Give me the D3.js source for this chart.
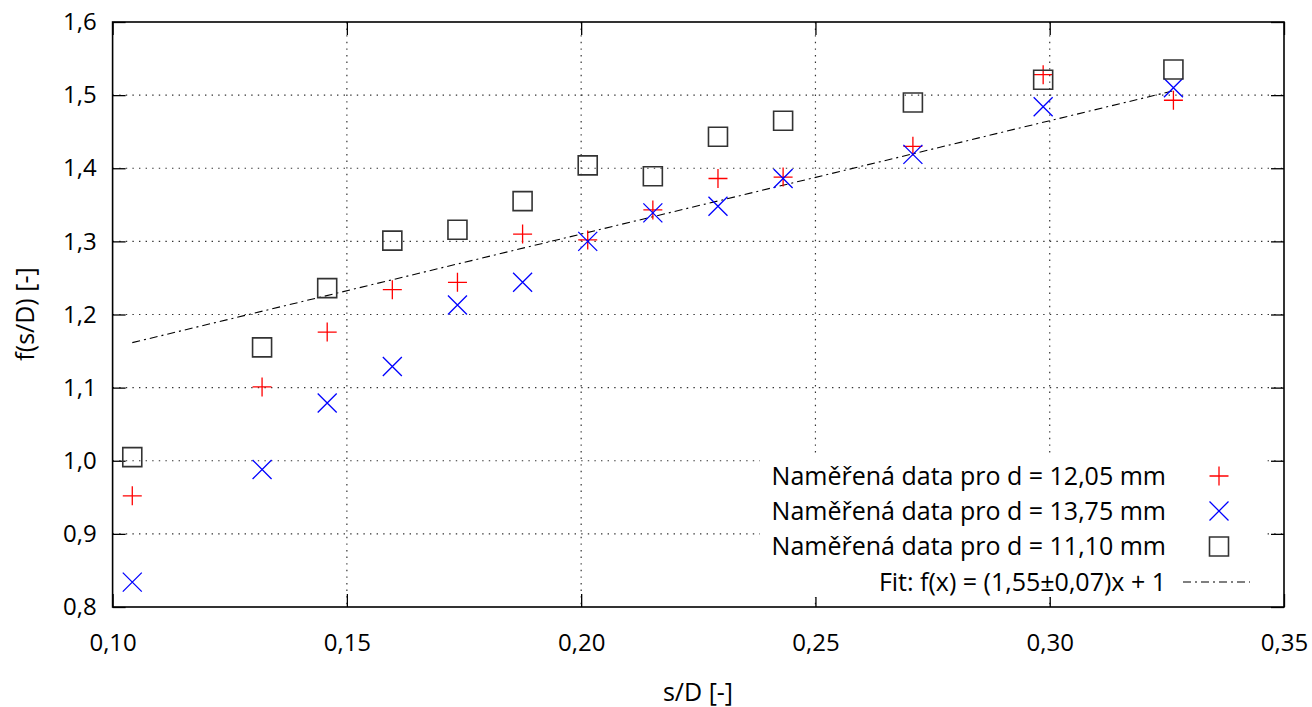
<!DOCTYPE html>
<html>
<head>
<meta charset="utf-8">
<script src="https://cdn.jsdelivr.net/npm/d3@7"></script>
<style>
  body { margin: 0; background: #fff; }
  text { font-family: "Open Sans", sans-serif; fill: #000; }
</style>
</head>
<body>
<div id="graph"></div>
<script>
// s/D values (shared by all three measured series)
var sD = [0.1042, 0.1319, 0.1458, 0.1597, 0.1736, 0.1875, 0.2014, 0.2153, 0.2292, 0.2431, 0.2708, 0.2986, 0.3264];
var fD1205 = [0.952, 1.101, 1.176, 1.234, 1.244, 1.310, 1.302, 1.343, 1.386, 1.388, 1.430, 1.528, 1.493];
var fD1375 = [0.834, 0.988, 1.079, 1.129, 1.213, 1.244, 1.300, 1.339, 1.348, 1.386, 1.419, 1.484, 1.510];
var fD1110 = [1.005, 1.155, 1.236, 1.301, 1.316, 1.355, 1.404, 1.389, 1.443, 1.465, 1.490, 1.521, 1.535];

var fitSlope = 1.55, fitIntercept = 1;
var fitRange = [0.1042, 0.3264];

var xTicks = [0.10, 0.15, 0.20, 0.25, 0.30, 0.35];
var yTicks = [0.8, 0.9, 1.0, 1.1, 1.2, 1.3, 1.4, 1.5, 1.6];

var legendLabels = ["Naměřená data pro d = 12,05 mm", "Naměřená data pro d = 13,75 mm",
                    "Naměřená data pro d = 11,10 mm", "Fit: f(x) = (1,55±0,07)x + 1"];

var W = 1312, H = 707;
var margin = { top: 22, right: 28, bottom: 100, left: 112.6 };
var w = W - margin.left - margin.right;
var h = H - margin.top - margin.bottom;
var FS = 24, LFS = 25;
var comma = function (s) { return s.replace(".", ","); };

var svg = d3.select("#graph").append("svg")
  .attr("width", W).attr("height", H)
  .append("g")
  .attr("transform", "translate(" + margin.left + "," + margin.top + ")");

var xScale = d3.scaleLinear().domain([0.10, 0.35]).range([0, w]);
var yScale = d3.scaleLinear().domain([0.8, 1.6]).range([h, 0]);

// grid
svg.append("g").selectAll("line").data(xTicks.slice(1, -1)).enter().append("line")
  .attr("x1", d => xScale(d)).attr("x2", d => xScale(d))
  .attr("y1", 0).attr("y2", h)
  .attr("stroke", "#333").attr("stroke-width", 1.2).attr("stroke-dasharray", "1.4,5.2");
svg.append("g").selectAll("line").data(yTicks.slice(1, -1)).enter().append("line")
  .attr("y1", d => yScale(d)).attr("y2", d => yScale(d))
  .attr("x1", 0).attr("x2", w)
  .attr("stroke", "#333").attr("stroke-width", 1.2).attr("stroke-dasharray", "1.4,5.2");

// axes (inward ticks, mirrored)
var xAxis = d3.axisBottom(xScale).tickValues(xTicks).tickSize(-13).tickPadding(27)
  .tickFormat(d => comma(d3.format(".2f")(d)));
var yAxis = d3.axisLeft(yScale).tickValues(yTicks).tickSize(-13).tickPadding(16)
  .tickFormat(d => comma(d3.format(".1f")(d)));

var gx = svg.append("g").attr("transform", "translate(0," + h + ")").call(xAxis);
var gy = svg.append("g").call(yAxis);
svg.append("g").call(d3.axisTop(xScale).tickValues(xTicks).tickSize(-13).tickFormat(""));
svg.append("g").attr("transform", "translate(" + w + ",0)")
  .call(d3.axisRight(yScale).tickValues(yTicks).tickSize(-13).tickFormat(""));

svg.selectAll(".domain").remove();
svg.selectAll(".tick line").attr("stroke", "#000").attr("stroke-width", 1.3);
svg.selectAll(".tick text").style("font-size", FS + "px").style("font-family", "\"Open Sans\", sans-serif");

// fit line
var line = d3.line().x(d => xScale(d)).y(d => yScale(fitIntercept + fitSlope * d));
svg.append("path").datum(fitRange).attr("d", line)
  .attr("fill", "none").attr("stroke", "#000").attr("stroke-width", 1.1)
  .attr("stroke-dasharray", "8,4,2,4");

// markers
var S = 9.5;
var plusPath = "M" + (-S) + ",0H" + S + "M0," + (-S) + "V" + S;
var crossPath = "M" + (-S) + "," + (-S) + "L" + S + "," + S + "M" + (-S) + "," + S + "L" + S + "," + (-S);
var squarePath = "M" + (-S) + "," + (-S) + "H" + S + "V" + S + "H" + (-S) + "Z";

var series = [
  { vals: fD1205, path: plusPath, color: "#ff0000", sw: 1.3 },
  { vals: fD1375, path: crossPath, color: "#0000ff", sw: 1.3 },
  { vals: fD1110, path: squarePath, color: "#333", sw: 1.6 }
];

series.forEach(function (s) {
  svg.append("g").selectAll("path").data(sD).enter().append("path")
    .attr("transform", (d, i) => "translate(" + xScale(d) + "," + yScale(s.vals[i]) + ")")
    .attr("d", s.path).attr("fill", "none")
    .attr("stroke", s.color).attr("stroke-width", s.sw);
});

// legend
var lg = svg.append("g").attr("transform", "translate(" + (760 - margin.left) + "," + (457 - margin.top) + ")");
lg.append("rect").attr("width", 506).attr("height", 140).attr("fill", "#fff");
var rowY = [19, 54, 89.5, 125];
legendLabels.forEach(function (t, i) {
  lg.append("text").attr("x", 406).attr("y", rowY[i]).attr("dy", "0.35em")
    .attr("text-anchor", "end").style("font-size", LFS + "px").text(t);
  if (i < 3) {
    lg.append("path").attr("transform", "translate(459," + rowY[i] + ")")
      .attr("d", series[i].path).attr("fill", "none")
      .attr("stroke", series[i].color).attr("stroke-width", series[i].sw);
  } else {
    lg.append("line").attr("x1", 423).attr("x2", 490).attr("y1", rowY[i]).attr("y2", rowY[i])
      .attr("stroke", "#000").attr("stroke-width", 1.1).attr("stroke-dasharray", "8,4,2,4");
  }
});

// frame
svg.append("rect").attr("width", w).attr("height", h)
  .attr("fill", "none").attr("stroke", "#000").attr("stroke-width", 1.6);

// axis titles
svg.append("text").attr("x", 698 - margin.left).attr("y", 692 - margin.top).attr("dy", "0.35em")
  .attr("text-anchor", "middle").style("font-size", LFS + "px").text("s/D [-]");
svg.append("text").attr("transform", "translate(" + (25 - margin.left) + "," + (314 - margin.top) + ") rotate(-90)")
  .attr("dy", "0.35em").attr("text-anchor", "middle").style("font-size", LFS + "px").text("f(s/D) [-]");
</script>
</body>
</html>
